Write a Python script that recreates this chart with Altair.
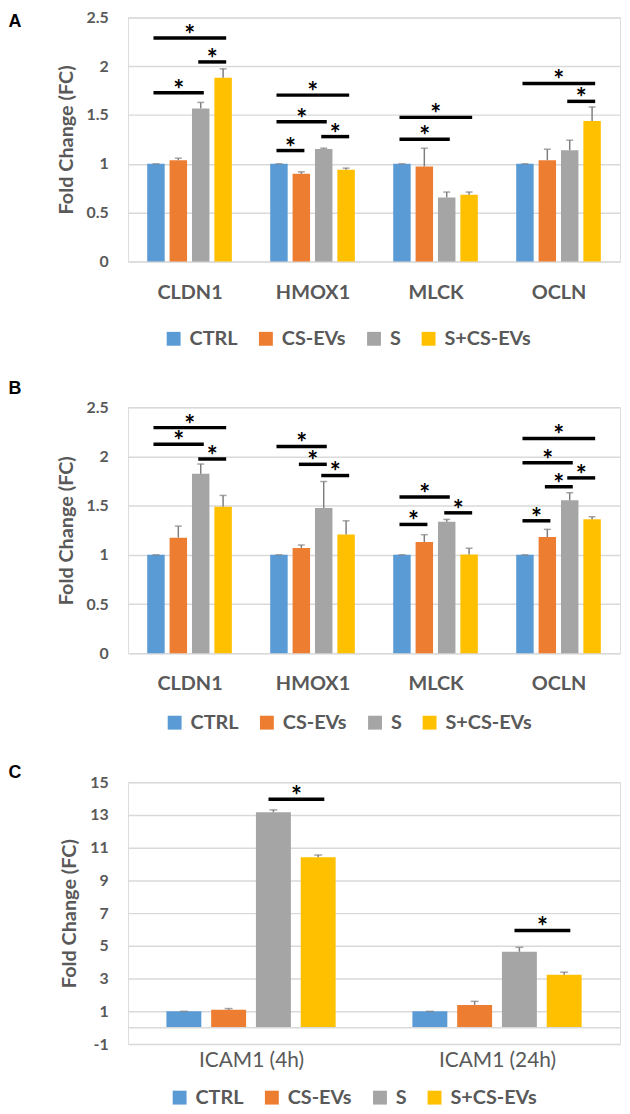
import altair as alt
import pandas as pd

groups = ["CTRL", "CS-EVs", "S", "S+CS-EVs"]
colors = ["#5B9BD5", "#ED7D31", "#A5A5A5", "#FFC000"]

# ---------- Panel A ----------
genes_ab = ["CLDN1", "HMOX1", "MLCK", "OCLN"]
a_ctrl = [1.0, 1.0, 1.0, 1.0]
a_csev = [1.037, 0.898, 0.973, 1.037]
a_s = [1.568, 1.153, 0.656, 1.14]
a_scsev = [1.881, 0.939, 0.684, 1.439]
a_ctrl_err = [0.0, 0.0, 0.0, 0.0]
a_csev_err = [0.021, 0.02, 0.187, 0.113]
a_s_err = [0.061, 0.007, 0.055, 0.102]
a_scsev_err = [0.092, 0.017, 0.027, 0.143]
# significance bars: gene index, from group, to group, height
a_sig_gene = [0, 0, 0, 1, 1, 1, 1, 2, 2, 3, 3]
a_sig_from = [0, 2, 0, 0, 0, 0, 2, 0, 0, 0, 2]
a_sig_to = [3, 3, 2, 3, 2, 1, 3, 3, 2, 3, 3]
a_sig_y = [2.289, 2.044, 1.728, 1.704, 1.432, 1.136, 1.279, 1.476, 1.252, 1.823, 1.64]

# ---------- Panel B ----------
b_ctrl = [1.0, 1.0, 1.0, 1.0]
b_csev = [1.175, 1.07, 1.131, 1.181]
b_s = [1.823, 1.477, 1.336, 1.554]
b_scsev = [1.49, 1.208, 1.004, 1.363]
b_ctrl_err = [0.0, 0.0, 0.0, 0.0]
b_csev_err = [0.117, 0.03, 0.074, 0.078]
b_s_err = [0.10, 0.268, 0.024, 0.077]
b_scsev_err = [0.114, 0.138, 0.063, 0.024]
b_sig_gene = [0, 0, 0, 1, 1, 1, 2, 2, 2, 3, 3, 3, 3, 3]
b_sig_from = [0, 0, 2, 0, 1, 2, 0, 0, 2, 0, 0, 1, 2, 0]
b_sig_to = [3, 2, 3, 2, 2, 3, 2, 1, 3, 3, 2, 2, 3, 1]
b_sig_y = [2.293, 2.125, 1.974, 2.102, 1.92, 1.806, 1.588, 1.309, 1.427,
           2.182, 1.937, 1.692, 1.782, 1.346]

# ---------- Panel C ----------
genes_c = ["ICAM1 (4h)", "ICAM1 (24h)"]
c_ctrl = [1.0, 1.0]
c_csev = [1.09, 1.39]
c_s = [13.17, 4.64]
c_scsev = [10.42, 3.23]
c_ctrl_err = [0.0, 0.0]
c_csev_err = [0.08, 0.22]
c_s_err = [0.14, 0.27]
c_scsev_err = [0.13, 0.16]
c_sig_gene = [0, 1]
c_sig_from = [2, 2]
c_sig_to = [3, 3]
c_sig_y = [13.96, 5.94]

panel_letters = ["A", "B", "C"]

STEP = 0.182   # bar step as fraction of a category
HALF = 0.071   # half bar width
GRAY = "#595959"
GRID = "#D9D9D9"


def bars_df(genes, means, errs):
    rows = []
    for gi, g in enumerate(genes):
        for k, grp in enumerate(groups):
            rows.append(dict(gene=g, gi=gi, group=grp, k=k,
                             value=means[k][gi], err=errs[k][gi]))
    return pd.DataFrame(rows)


def sig_df(gene, frm, to, y):
    return pd.DataFrame(dict(gi=gene, frm=frm, to=to, y=y))


def panel(letter, genes, means, errs, sig, ydom, yvals, yexpr, height,
          letter_dy, legend_x, legend_y, cat_pad, cat_weight, cat_size, cap_size,
          zero_line=False):
    n = len(genes)
    df = bars_df(genes, means, errs)
    sdf = sig_df(*sig)
    xscale = alt.Scale(domain=[0, n], nice=False, zero=False)
    label_expr = "[" + ",".join(f"'{g}'" for g in genes) + "][floor(datum.value)]"
    xaxis = alt.Axis(values=[i + 0.5 for i in range(n)], labelExpr=label_expr,
                     grid=False, ticks=False, tickSize=0, domain=False,
                     labelFont="Lato", labelFontSize=cat_size, labelFontWeight=cat_weight,
                     labelColor=GRAY, labelPadding=cat_pad, title=None)
    yscale = alt.Scale(domain=ydom, nice=False, zero=False)
    yaxis = alt.Axis(values=yvals, labelExpr=yexpr, grid=True, gridColor=GRID,
                     gridWidth=1.5, domain=False, ticks=False, tickSize=0,
                     labelFont="Lato", labelFontSize=16, labelFontWeight="bold",
                     labelColor=GRAY, labelPadding=20,
                     title="Fold Change (FC)", titleFont="Lato",
                     titleFontSize=20, titleFontWeight="bold",
                     titleColor=GRAY, titlePadding=10)

    def X(f):
        return alt.X(f, type="quantitative", scale=xscale, axis=xaxis)

    def Y(f):
        return alt.Y(f, type="quantitative", scale=yscale, axis=yaxis)

    base = alt.Chart(df).transform_calculate(
        pos=f"datum.gi + 0.5 + (datum.k - 1.5) * {STEP}",
    ).transform_calculate(
        x1=f"datum.pos - {HALF}",
        x2=f"datum.pos + {HALF}",
        top="datum.value + datum.err",
    )
    bars = base.mark_bar().encode(
        x=X("x1"), x2="x2:Q", y=Y("value"), y2=alt.datum(0),
        color=alt.Color("group:N", scale=alt.Scale(domain=groups, range=colors),
                        legend=alt.Legend(title=None, orient="none",
                                          legendX=legend_x, legendY=legend_y,
                                          direction="horizontal", columns=4,
                                          symbolType="square", symbolSize=196,
                                          symbolStrokeWidth=0, labelFont="Lato",
                                          labelFontSize=20, labelFontWeight="bold",
                                          labelColor=GRAY, columnPadding=18,
                                          labelOffset=6, labelLimit=0, padding=0)),
    )
    err_rule = base.mark_rule(color="#7F7F7F", strokeWidth=1.5).encode(
        x=X("pos"), y=Y("value"), y2="top:Q")
    caps = base.mark_tick(orient="horizontal", color="#7F7F7F", thickness=1.5,
                          size=cap_size).encode(x=X("pos"), y=Y("top"))

    sbase = alt.Chart(sdf).transform_calculate(
        xs=f"datum.gi + 0.5 + (datum.frm - 1.5) * {STEP} - 0.02",
        xe=f"datum.gi + 0.5 + (datum.to - 1.5) * {STEP} + 0.025",
    ).transform_calculate(xm="(datum.xs + datum.xe) / 2")
    sig_rules = sbase.mark_rule(color="black", strokeWidth=3.5).encode(
        x=X("xs"), x2="xe:Q", y=Y("y"))
    stars = sbase.mark_text(text="*", font="Lato", fontSize=26, fontWeight="bold",
                            color="black", baseline="alphabetic", dy=6).encode(
        x=X("xm"), y=Y("y"))

    lab = alt.Chart(pd.DataFrame({"letter": [letter]})).mark_text(
        font="Liberation Sans", fontSize=18, fontWeight="bold", color="black",
        align="center", baseline="middle").encode(
        x=alt.value(-114), y=alt.value(letter_dy), text="letter:N")

    layers = [bars]
    if zero_line:
        layers.append(alt.Chart(pd.DataFrame({"z": [0]})).mark_rule(
            color=GRID, strokeWidth=1.5).encode(y=Y("z")))
    layers += [err_rule, caps, sig_rules, stars, lab]
    return alt.layer(*layers).properties(width=496, height=height)


ab_expr = "format(datum.value, '.1~f')"
c_expr = "(datum.value < 0 ? '-' : '') + abs(datum.value)"

pA = panel(panel_letters[0], genes_ab,
           [a_ctrl, a_csev, a_s, a_scsev],
           [a_ctrl_err, a_csev_err, a_s_err, a_scsev_err],
           (a_sig_gene, a_sig_from, a_sig_to, a_sig_y),
           [0, 2.5], [0, 0.5, 1, 1.5, 2, 2.5], ab_expr, 246,
           5, 36, 314, 21, "bold", 20, 7)
pB = panel(panel_letters[1], genes_ab,
           [b_ctrl, b_csev, b_s, b_scsev],
           [b_ctrl_err, b_csev_err, b_s_err, b_scsev_err],
           (b_sig_gene, b_sig_from, b_sig_to, b_sig_y),
           [0, 2.5], [0, 0.5, 1, 1.5, 2, 2.5], ab_expr, 248,
           -18, 37, 308, 21, "bold", 20, 7)
pC = panel(panel_letters[2], genes_c,
           [c_ctrl, c_csev, c_s, c_scsev],
           [c_ctrl_err, c_csev_err, c_s_err, c_scsev_err],
           (c_sig_gene, c_sig_from, c_sig_to, c_sig_y),
           [-1, 15], list(range(-1, 16, 2)), c_expr, 264,
           -9, 42, 308, 6, "normal", 21, 8, zero_line=True)

chart = alt.vconcat(pA, pB, pC, spacing=30).resolve_scale(
    color="independent").resolve_legend(color="independent").properties(
    padding={"top": -4, "left": 0, "right": 0, "bottom": 0}
).configure_view(stroke=None).configure(background="white")

chart.save("out.html", embed_options={"renderer": "svg", "actions": False})
